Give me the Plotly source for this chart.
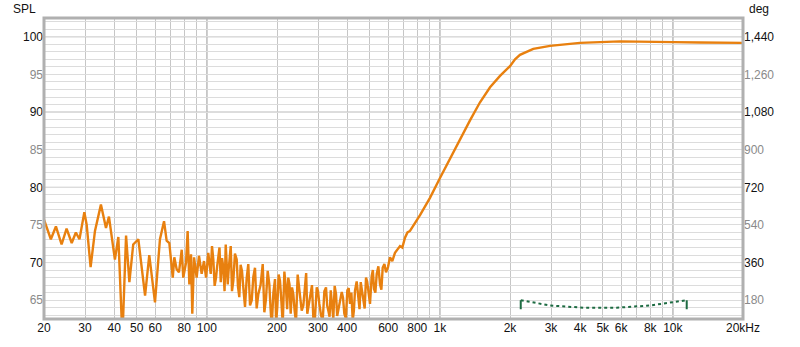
import math
import plotly.graph_objects as go

# ---------------- data ----------------
spl_freq = [20.0, 21.4, 22.5, 23.8, 25.0, 26.3, 27.4, 28.4, 29.8, 30.5, 31.7, 33.1, 35.1, 36.9, 38.0,
            40.3, 41.7, 43.4, 45.0, 46.5, 48.3, 50.8, 54.3, 56.6, 59.9, 62.9, 65.5, 67.2, 69.0, 71.4,
            72.5, 74.2, 75.9, 78.0, 79.2, 81.4, 82.7, 84.1, 85.5, 86.6, 88.1, 90.4, 92.5, 95.0, 97.2,
            99.2, 101.4, 103.9, 106.6, 109.5, 112.0, 114.7, 117.7, 120.5, 122.9, 126.6, 129.9, 134.3,
            137.8, 141.5, 145.8, 150.6, 155.8, 160.9, 166.3, 173.7, 179.4, 185.4, 189.8, 196.1, 200.6,
            206.0, 211.7, 218.6, 223.6, 229.0, 235.0, 241.3, 249.3, 255.3, 263.8, 269.8, 279.0, 286.3,
            296.2, 303.9, 314.2, 324.6, 332.2, 340.2, 348.9, 358.4, 366.7, 379.2, 389.1, 400.8, 411.6,
            422.7, 432.4, 446.8, 457.5, 469.4, 482.0, 493.0, 509.8, 521.6, 535.8, 553.6, 568.4, 587.4,
            611.0, 641.8, 674.4, 708.6, 744.4, 821.9, 907.0, 1000.0, 1105.0, 1220.0, 1347.0, 1487.0,
            1642.0, 1812.0, 2000.0, 2102.0, 2207.0, 2436.0, 2518.0, 2970.0, 3993.0, 5932.0, 7993.0,
            10015.0, 13078.0, 20000.0]
spl_db = [75.7, 73.1, 74.8, 72.4, 74.5, 72.6, 74.0, 73.1, 76.7, 75.0, 69.4, 74.2, 77.7, 74.6, 76.1,
          70.4, 73.4, 60.0, 73.6, 67.4, 72.4, 73.1, 65.6, 71.0, 64.7, 73.1, 75.5, 72.9, 72.6, 68.0,
          70.7, 69.1, 68.7, 71.7, 68.0, 70.0, 74.2, 67.1, 71.1, 63.2, 70.7, 68.0, 70.9, 68.5, 70.2,
          68.0, 71.3, 68.5, 70.4, 68.0, 70.9, 67.4, 69.3, 72.4, 67.1, 72.2, 67.6, 70.4,
          65.4, 68.9, 64.1, 69.8, 65.0, 69.3, 65.8, 69.8, 65.2, 67.1, 61.5, 67.8, 64.1,
          67.6, 61.8, 66.5, 68.0, 63.2, 65.8, 62.0, 66.7, 63.6, 67.4, 63.2, 66.3, 62.8,
          66.7, 64.5, 62.3, 66.7, 63.6, 66.3, 62.5, 65.8, 63.6, 66.1, 63.2, 66.3, 64.5,
          62.3, 66.3, 65.0, 67.4, 65.6, 68.0, 66.3, 68.2, 66.5, 68.5, 67.1, 69.3, 68.7,
          70.7, 71.3, 72.2, 73.3, 74.2, 76.3, 78.6, 81.2, 83.8, 86.4, 88.9, 91.3,
          93.3, 94.8, 96.1, 97.0, 97.6, 98.2, 98.4, 98.8, 99.2, 99.4, 99.4,
          99.3, 99.25, 99.2]

# extra estimated points inside the dense noisy band (100 Hz - 730 Hz)
fill_freq = [102.6, 105.2, 108.0, 110.7, 113.3, 116.2, 119.1, 121.7, 124.0, 128.2, 132.0, 136.0,
             139.6, 143.6, 148.2, 153.2, 158.3, 163.6, 170.0, 176.5, 182.4, 187.6, 193.0, 198.3,
             203.3, 208.8, 215.1, 221.1, 226.3, 232.0, 238.1, 245.3, 252.3, 259.5, 266.8, 274.4,
             282.6, 291.2, 300.0, 309.0, 319.4, 328.4, 336.2, 344.5, 353.6, 362.5, 372.9, 384.1,
             395.0, 406.2, 417.1, 427.5, 439.6, 452.1, 463.4, 475.7, 487.5, 501.4, 515.7, 528.7,
             544.7, 561.0, 578.0, 599.0, 625.0, 658.0, 690.0, 726.0]
fill_db = [69.8, 72.2, 66.9, 69.5, 72.0, 70.6, 66.2, 70.3, 69.0, 66.2, 71.2, 66.8,
           69.7, 66.4, 67.9, 64.3, 68.1, 63.9, 67.0, 63.4, 68.9, 64.0, 66.0, 62.0,
           68.4, 64.9, 68.8, 63.8, 67.1, 66.7, 63.6, 68.4, 65.6, 64.3, 68.6, 64.5,
           67.0, 62.8, 66.2, 63.0, 66.2, 64.3, 62.8, 64.8, 66.9, 62.9, 64.9, 65.3,
           62.6, 66.6, 66.0, 63.6, 67.5, 63.8, 66.2, 63.9, 67.5, 64.5, 69.0, 66.0,
           69.5, 66.4, 69.8, 69.4, 70.2, 71.8, 72.0, 74.0]

tgt_freq = [2224, 2970, 4128, 5741, 7993, 10070, 11468]
tgt_db = [65.0, 64.3, 64.0, 64.0, 64.3, 64.7, 65.0]

x_grid = [20, 30, 40, 50, 60, 70, 80, 90, 100, 200, 300, 400, 500, 600, 700, 800, 900,
          1000, 2000, 3000, 4000, 5000, 6000, 7000, 8000, 9000, 10000, 20000]
x_text = ["20", "30", "40", "50", "60", "", "80", "", "100", "200", "300", "400", "", "600", "",
          "800", "", "1k", "2k", "3k", "4k", "5k", "6k", "", "8k", "", "10k", "20kHz"]
x_major = [100, 1000, 10000]

y_min, y_max = 62.5, 102.5
spl_ticks = list(range(63, 103))
spl_labels = {65: "65", 70: "70", 75: "75", 80: "80", 85: "85", 90: "90", 95: "95", 100: "100"}
spl_major = [70, 80, 90, 100]

deg_ticks = [180, 360, 540, 720, 900, 1080, 1260, 1440]
deg_labels = ["180", "360", "540", "720", "900", "1,080", "1,260", "1,440"]
# right axis is aligned so that 65 dB <-> 180 deg and 5 dB <-> 180 deg
deg_per_db = 36.0
deg_zero_db = 60.0


def to_deg(db):
    return (db - deg_zero_db) * deg_per_db


# ---------------- figure ----------------
DARK = "#111111"
GREY = "#8a8a8a"


def lab(text, major):
    if not text:
        return ""
    c = DARK if major else GREY
    return f"<span style='color:{c}'>{text}</span>"


spl_text = [lab(spl_labels.get(t, ""), t % 10 == 0) for t in spl_ticks]
deg_text = [lab(s, (t // 180) % 2 == 0) for t, s in zip(deg_ticks, deg_labels)]

pts = sorted(zip(spl_freq + fill_freq, spl_db + fill_db))
all_f = [p[0] for p in pts]
all_db = [p[1] for p in pts]

fig = go.Figure()

# invisible trace that carries the right (deg) axis
fig.add_trace(go.Scatter(
    x=[spl_freq[0], spl_freq[-1]], y=[to_deg(y_min), to_deg(y_max)], yaxis="y2",
    mode="lines", line=dict(color="rgba(0,0,0,0)", width=1), hoverinfo="skip", showlegend=False))

fig.add_trace(go.Scatter(
    x=all_f, y=all_db, mode="lines",
    line=dict(color="#E8800F", width=2.4),
    hoverinfo="skip", showlegend=False))

fig.add_trace(go.Scatter(
    x=tgt_freq, y=tgt_db, mode="lines",
    line=dict(color="#1D6B42", width=2, dash="dot"),
    hoverinfo="skip", showlegend=False))

fig.add_trace(go.Scatter(
    x=[tgt_freq[0], tgt_freq[0], None, tgt_freq[-1], tgt_freq[-1]],
    y=[tgt_db[0], y_min, None, tgt_db[-1], y_min], mode="lines",
    line=dict(color="#1D6B42", width=2, dash="dash"),
    hoverinfo="skip", showlegend=False))

shapes = []
for f in x_major:
    shapes.append(dict(type="line", xref="x", yref="paper", x0=f, x1=f, y0=0, y1=1,
                       line=dict(color="#7c7c7c", width=1), layer="below"))
for v in spl_major:
    shapes.append(dict(type="line", xref="paper", yref="y", x0=0, x1=1, y0=v, y1=v,
                       line=dict(color="#b4b4b4", width=1), layer="below"))
# frame
shapes.append(dict(type="rect", xref="paper", yref="paper", x0=0, x1=1, y0=0, y1=1,
                   line=dict(color="#b0b0b0", width=3), layer="above"))

fig.update_layout(
    width=800, height=347,
    margin=dict(l=44, r=57, t=18, b=25),
    paper_bgcolor="white", plot_bgcolor="white",
    font=dict(family="Liberation Sans, Arial, sans-serif", size=12, color=DARK),
    xaxis=dict(type="log", range=[math.log10(20), math.log10(20000)],
               tickvals=x_grid, ticktext=x_text, showgrid=True,
               gridcolor="#c6c6c6", gridwidth=1, zeroline=False, showline=False,
               ticks="", tickfont=dict(size=12, color=DARK), fixedrange=True),
    yaxis=dict(range=[y_min, y_max], tickvals=spl_ticks, ticktext=spl_text,
               showgrid=True, gridcolor="#dcdcdc", gridwidth=1, zeroline=False,
               ticks="", tickfont=dict(size=12), fixedrange=True),
    yaxis2=dict(range=[to_deg(y_min), to_deg(y_max)], overlaying="y", side="right",
                anchor="x", tickmode="array", tickvals=deg_ticks, ticktext=deg_text,
                showticklabels=True, showgrid=False, zeroline=False,
                ticks="", tickfont=dict(size=12), fixedrange=True),
    shapes=shapes,
    annotations=[
        dict(text="SPL", xref="paper", yref="paper", x=-0.008, y=1.0, yshift=9,
             xanchor="right", yanchor="middle", showarrow=False, font=dict(size=12, color=DARK)),
        dict(text="deg", xref="paper", yref="paper", x=1.0, y=1.0, yshift=9, xshift=4,
             xanchor="left", yanchor="middle", showarrow=False, font=dict(size=12, color=DARK)),
    ],
)

fig.write_html("out.html")
